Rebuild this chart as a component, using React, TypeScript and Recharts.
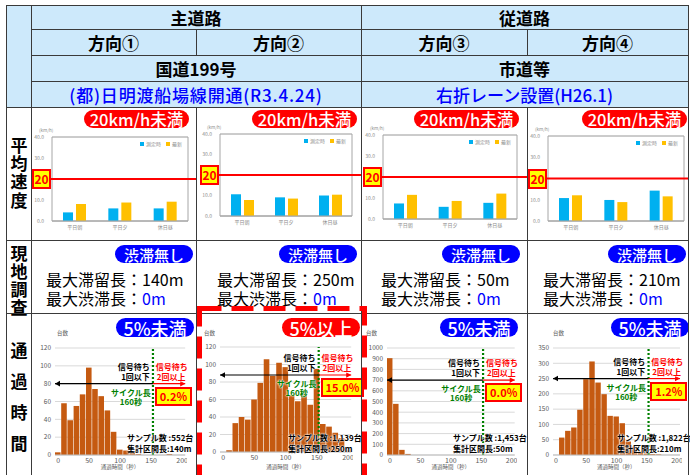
import React from "react";
import {
  BarChart,
  Bar,
  XAxis,
  YAxis,
  CartesianGrid,
  ReferenceLine,
  ReferenceArea,
} from "recharts";

const JP = '"Noto Sans CJK JP", "Noto Sans", sans-serif';
const BLUE = "#0000ff";
const RED = "#ff0000";
const LINE = "#3a3a3a";
const HEAD_BG = "#cde9fb";
const BROWN = "#C55A11";
const GREEN = "#008000";

// header
const mainRoad = "主道路";
const subRoad = "従道路";
const directions = ["方向①", "方向②", "方向③", "方向④"];
const roadNames = ["国道199号", "市道等"];
const measures = ["(都)日明渡船場線開通(R3.4.24)", "右折レーン設置(H26.1)"];
const rowLabels = ["平均速度", "現地調査", "通過時間"];

// 平均速度 (km/h)
const speedCats = ["平日朝", "平日夕", "休日昼"];
const speedSeriesNames = ["測定時", "最新"];
const speedTicks = [0, 10, 20, 30, 40];
const speedThreshold = 20;
const speedJudge = "20km/h未満";
const speedBefore1 = [4.1, 6.0, 6.0];
const speedLatest1 = [8.1, 8.8, 9.2];
const speedBefore2 = [10.6, 9.1, 10.0];
const speedLatest2 = [7.8, 8.5, 10.4];
const speedBefore3 = [7.4, 5.8, 7.7];
const speedLatest3 = [11.5, 8.6, 12.1];
const speedBefore4 = [10.8, 9.9, 14.3];
const speedLatest4 = [12.1, 8.9, 11.6];

// 現地調査
const jamLabel = "渋滞無し";
const maxQueue = ["140m", "250m", "50m", "210m"];
const maxJam = ["0m", "0m", "0m", "0m"];

// 通過時間 (histogram, 10 s bins)
const histBins = [0, 10, 20, 30, 40, 50, 60, 70, 80, 90, 100, 110, 120, 130, 140, 150, 160, 170, 180, 190, 200];
const histXTicks = [0, 50, 100, 150, 200];
const cycleSec = 153;
const hist1 = [3, 58, 39, 55, 68, 98, 74, 66, 50, 26, 6, 5, 3, 1, 0, 0, 0, 0, 1, 0, 0];
const hist2 = [0, 2, 33, 40, 37, 60, 79, 106, 87, 102, 97, 65, 58, 66, 54, 95, 32, 29, 22, 16, 2];
const hist3 = [905, 478, 48, 10, 0, 0, 0, 0, 0, 0, 0, 0, 0, 0, 0, 0, 0, 0, 0, 0, 0];
const hist4 = [0, 57, 79, 90, 148, 248, 306, 237, 199, 128, 126, 104, 44, 27, 11, 5, 3, 2, 0, 0, 0];
const histYTicks1 = [0, 20, 40, 60, 80, 100, 120];
const histYTicks2 = [0, 20, 40, 60, 80, 100, 120];
const histYTicks3 = [0, 100, 200, 300, 400, 500, 600, 700, 800, 900, 1000];
const histYTicks4 = [0, 50, 100, 150, 200, 250, 300, 350];
const arrowLevels = [80, 88, 700, 250];
const overRatios = ["0.2%", "15.0%", "0.0%", "1.2%"];
const judgements = ["5%未満", "5%以上", "5%未満", "5%未満"];
const sampleCounts = ["552", "1,139", "1,453", "1,822"];
const sectionLengths = ["140m", "250m", "50m", "210m"];

// layout
const colX = [31, 196, 361, 527, 688];

const speedPanels = [
  { before: speedBefore1, latest: speedLatest1, L: 52, T: 137, R: 188, B: 221, pillX: 84, boxX: 32 },
  { before: speedBefore2, latest: speedLatest2, L: 220, T: 134, R: 352, B: 216, pillX: 252, boxX: 200 },
  { before: speedBefore3, latest: speedLatest3, L: 383, T: 135, R: 517, B: 219, pillX: 414, boxX: 363 },
  { before: speedBefore4, latest: speedLatest4, L: 548, T: 136, R: 684, B: 221, pillX: 582, boxX: 528 },
];

const jamPanels = [
  { pillX: 115, textX: 46 },
  { pillX: 279, textX: 217 },
  { pillX: 442, textX: 381 },
  { pillX: 608, textX: 543 },
];

const histPanels = [
  { counts: hist1, yTicks: histYTicks1, L: 54.9, T: 348, R: 185.1, B: 455, pillX: 116, unitX: 57, sampleX: 127 },
  { counts: hist2, yTicks: histYTicks2, L: 219.9, T: 347, R: 351.1, B: 452, pillX: 282, unitX: 204, sampleX: 288 },
  { counts: hist3, yTicks: histYTicks3, L: 387, T: 348, R: 514.7, B: 455, pillX: 440, unitX: 366, sampleX: 453 },
  { counts: hist4, yTicks: histYTicks4, L: 552.7, T: 348, R: 679.7, B: 455, pillX: 611, unitX: 553, sampleX: 617 },
];

function Txt({ x, y, size, color = "#000", weight = 400, w, align = "left", children, style }: any) {
  return (
    <div
      style={{
        position: "absolute",
        left: x,
        top: y,
        width: w,
        fontSize: size,
        color,
        fontWeight: weight,
        textAlign: align,
        lineHeight: 1,
        whiteSpace: "nowrap",
        fontFamily: JP,
        ...style,
      }}
    >
      {children}
    </div>
  );
}

function Pill({ x, y, w, h, bg, size, text }: any) {
  return (
    <div
      style={{
        position: "absolute",
        left: x,
        top: y,
        width: w,
        height: h,
        background: bg,
        borderRadius: h / 2,
        color: "#fff",
        fontSize: size,
        fontFamily: JP,
        fontWeight: 500,
        display: "flex",
        alignItems: "center",
        justifyContent: "center",
        lineHeight: 1,
      }}
    >
      {text}
    </div>
  );
}

function HLine({ y, x1, x2 }: any) {
  return <div style={{ position: "absolute", left: x1, top: y, width: x2 - x1 + 1, height: 1, background: LINE }} />;
}
function VLine({ x, y1, y2 }: any) {
  return <div style={{ position: "absolute", left: x, top: y1, width: 1, height: y2 - y1, background: LINE }} />;
}

function Cell({ x1, x2, y1, y2, children, color = "#000", size = 17, weight = 700, spacing = 0 }: any) {
  return (
    <div
      style={{
        position: "absolute",
        left: x1,
        top: y1,
        width: x2 - x1,
        height: y2 - y1,
        display: "flex",
        alignItems: "center",
        justifyContent: "center",
        fontFamily: JP,
        fontSize: size,
        fontWeight: weight,
        letterSpacing: spacing,
        color,
        lineHeight: 1,
      }}
    >
      {children}
    </div>
  );
}

function SpeedChart({ p, cellR }: any) {
  const yw = 26;
  const xh = 12;
  const mt = 6;
  const extR = cellR - p.R;
  const data = speedCats.map((c, i) => ({ cat: c, before: p.before[i], latest: p.latest[i] }));
  const tick = { fontSize: 5, fill: "#8c8c8c", fontFamily: JP };
  return (
    <div style={{ position: "absolute", left: p.L - yw, top: p.T - mt }}>
      <BarChart
        width={p.R - p.L + yw + extR}
        height={p.B - p.T + mt + xh}
        data={data}
        margin={{ top: mt, right: extR, left: 0, bottom: 0 }}
        barGap={3}
        barSize={10}
      >
        <CartesianGrid vertical={false} stroke="#e4e4e4" />
        <XAxis dataKey="cat" height={xh} tick={tick} tickLine={false} tickSize={3} tickMargin={1} axisLine={{ stroke: "#a6a6a6" }} />
        <YAxis
          width={yw}
          domain={[0, 40]}
          ticks={speedTicks}
          tickFormatter={(v: number) => v.toFixed(1)}
          tick={tick}
          tickLine={false}
          axisLine={false}
        />
        <ReferenceArea y1={0} y2={40} fill="none" stroke="#a6a6a6" ifOverflow="visible" />
        <Bar dataKey="before" name={speedSeriesNames[0]} fill="#00B0F0" isAnimationActive={false} />
        <Bar dataKey="latest" name={speedSeriesNames[1]} fill="#FFC000" isAnimationActive={false} />
        <ReferenceLine
          y={speedThreshold}
          ifOverflow="visible"
          shape={(s: any) => (
            <line x1={s.x1 - 2} x2={s.x2 + extR} y1={s.y1} y2={s.y2} stroke={RED} strokeWidth={2} />
          )}
        />
      </BarChart>
    </div>
  );
}

const arrowShape = (dir: "left" | "right", color: string) => (s: any) => {
  const tip = dir === "left" ? Math.min(s.x1, s.x2) : Math.max(s.x1, s.x2);
  const k = dir === "left" ? 1 : -1;
  const y = s.y1;
  return (
    <g>
      <line x1={s.x1} x2={s.x2} y1={y} y2={y} stroke={color} strokeWidth={1.2} />
      <path d={`M${tip},${y} L${tip + 5 * k},${y - 2.8} L${tip + 5 * k},${y + 2.8} Z`} fill={color} />
    </g>
  );
};

function HistChart({ p, level }: any) {
  const yw = 30;
  const xh = 14;
  const mt = 7;
  const yMax = p.yTicks[p.yTicks.length - 1];
  const data = histBins.map((t, i) => ({ t, n: p.counts[i] }));
  const bw = (p.R - p.L) / 21;
  return (
    <div style={{ position: "absolute", left: p.L - yw, top: p.T - mt }}>
      <BarChart
        width={p.R - p.L + yw + 2}
        height={p.B - p.T + mt + xh}
        data={data}
        margin={{ top: mt, right: 2, left: 0, bottom: 0 }}
        barCategoryGap={0}
        barGap={0}
      >
        <CartesianGrid vertical={false} stroke="#d9d9d9" />
        <XAxis
          type="number"
          dataKey="t"
          domain={[-5, 205]}
          ticks={histXTicks}
          interval={0}
          height={xh}
          tick={{ fontSize: 7, fill: "#595959", fontFamily: JP }}
          tickLine={false}
          tickSize={2}
          tickMargin={1}
          axisLine={{ stroke: "#bfbfbf" }}
        />
        <YAxis
          width={yw}
          domain={[0, yMax]}
          ticks={p.yTicks}
          interval={0}
          tick={{ fontSize: 6.5, fill: "#595959", fontFamily: JP }}
          tickLine={false}
          tickSize={3}
          tickMargin={1}
          axisLine={false}
        />
        <Bar dataKey="n" fill={BROWN} barSize={bw + 0.3} isAnimationActive={false} />
        <ReferenceLine x={cycleSec} stroke={GREEN} strokeWidth={2.2} strokeDasharray="2 2" ifOverflow="visible" />
        <ReferenceLine
          segment={[{ x: -5, y: level }, { x: cycleSec, y: level }]}
          ifOverflow="visible"
          shape={arrowShape("left", "#000")}
        />
        <ReferenceLine
          segment={[{ x: cycleSec, y: level }, { x: 205, y: level }]}
          ifOverflow="visible"
          shape={arrowShape("right", RED)}
        />
      </BarChart>
    </div>
  );
}

const halo = { textShadow: "0 0 2px #fff, 0 0 2px #fff, 0 0 1px #fff" };

function HistNotes({ p, i }: any) {
  const yMax = p.yTicks[p.yTicks.length - 1];
  const gx = p.L + ((cycleSec + 5) / 210) * (p.R - p.L);
  const ay = p.B - (arrowLevels[i] / yMax) * (p.B - p.T);
  const over = judgements[i] === "5%以上";
  return (
    <>
      <Pill x={p.pillX} y={318} w={78} h={19} bg={over ? RED : BLUE} size={18} text={judgements[i]} />
      <Txt x={p.unitX} y={331} size={5.5} color="#595959">台数</Txt>
      <Txt x={gx - 43} y={ay - 21} w={40} align="right" size={8} weight={700} style={halo}>信号待ち</Txt>
      <Txt x={gx - 43} y={ay - 11} w={40} align="right" size={8} weight={700} style={halo}>1回以下</Txt>
      <Txt x={gx + 3} y={ay - 21} size={8} weight={700} color={RED} style={halo}>信号待ち</Txt>
      <Txt x={gx + 4} y={ay - 11} size={8} weight={700} color={RED} style={halo}>2回以上</Txt>
      <Txt x={gx - 47} y={ay + 5} w={50} align="center" size={8} weight={700} color={GREEN} style={halo}>サイクル長</Txt>
      <Txt x={gx - 47} y={ay + 14} w={50} align="center" size={8} weight={700} color={GREEN} style={halo}>160秒</Txt>
      <div
        style={{
          position: "absolute",
          left: gx + 2,
          top: ay + 3,
          padding: "2px 3px",
          border: `2px solid ${RED}`,
          background: "#ffff00",
          color: RED,
          fontWeight: 700,
          fontSize: 11,
          lineHeight: 1,
          fontFamily: JP,
        }}
      >
        {overRatios[i]}
      </div>
      <Txt x={p.sampleX} y={434} size={8} weight={700} style={halo}>サンプル数 :{sampleCounts[i]}台</Txt>
      <Txt x={p.sampleX} y={445} size={8} weight={700} style={halo}>集計区間長:{sectionLengths[i]}</Txt>
      <Txt x={(p.L + p.R) / 2 - 30} y={465} w={60} align="center" size={5.5} color="#595959">通過時間（秒）</Txt>
    </>
  );
}

function VerticalLabel({ text, centers }: any) {
  return (
    <>
      {text.split("").map((ch: string, i: number) => (
        <div
          key={i}
          style={{
            position: "absolute",
            left: 7,
            top: centers[i] - 9,
            width: 24,
            height: 18,
            textAlign: "center",
            fontSize: 17,
            fontWeight: 700,
            lineHeight: "18px",
            fontFamily: JP,
            color: "#000",
          }}
        >
          {ch}
        </div>
      ))}
    </>
  );
}

export default function App() {
  return (
    <div
      style={{
        position: "absolute",
        left: 0,
        top: 0,
        width: 690,
        height: 475,
        overflow: "hidden",
        background: "#fff",
        fontFamily: JP,
      }}
    >
      {/* header background */}
      <div style={{ position: "absolute", left: 6, top: 5, width: 682, height: 102, background: HEAD_BG }} />

      <Cell x1={31} x2={361} y1={5} y2={29}>{mainRoad}</Cell>
      <Cell x1={361} x2={688} y1={5} y2={29}>{subRoad}</Cell>
      {directions.map((d, i) => (
        <Cell key={d} x1={colX[i]} x2={colX[i + 1]} y1={29} y2={55}>{d}</Cell>
      ))}
      <Cell x1={31} x2={361} y1={55} y2={81}>{roadNames[0]}</Cell>
      <Cell x1={361} x2={688} y1={55} y2={81}>{roadNames[1]}</Cell>
      <Cell x1={31} x2={361} y1={81} y2={107} color={BLUE} weight={500} spacing={0.8}>{measures[0]}</Cell>
      <Cell x1={361} x2={688} y1={81} y2={107} color={BLUE} weight={500}>{measures[1]}</Cell>

      <VerticalLabel text={rowLabels[0]} centers={[145, 163, 181, 200]} />
      <VerticalLabel text={rowLabels[1]} centers={[253, 271, 289, 307]} />
      <VerticalLabel text={rowLabels[2]} centers={[350, 381, 412, 443]} />

      {/* 平均速度 */}
      {speedPanels.map((p, i) => (
        <SpeedChart key={i} p={p} cellR={colX[i + 1]} />
      ))}
      {speedPanels.map((p, i) => {
        const y20 = p.B - (speedThreshold / 40) * (p.B - p.T);
        return (
          <React.Fragment key={i}>
            <Pill x={p.pillX} y={110} w={105} h={18} bg={RED} size={16.5} text={speedJudge} />
            <Txt x={p.L - 13} y={p.T - 9} size={4.5} color="#8c8c8c">(km/h)</Txt>
            <div
              style={{
                position: "absolute",
                left: p.R - 48,
                top: p.T + 4,
                display: "flex",
                alignItems: "center",
                gap: 2,
                fontSize: 5,
                color: "#8c8c8c",
                fontFamily: JP,
                lineHeight: 1,
              }}
            >
              <span style={{ width: 4, height: 4, background: "#00B0F0", display: "inline-block" }} />
              <span>{speedSeriesNames[0]}</span>
              <span style={{ width: 4, height: 4, background: "#FFC000", display: "inline-block", marginLeft: 3 }} />
              <span>{speedSeriesNames[1]}</span>
            </div>
            <div
              style={{
                position: "absolute",
                left: p.boxX,
                top: y20 - 10,
                width: 19,
                height: 20,
                boxSizing: "border-box",
                border: `2px solid ${RED}`,
                background: "#ffff00",
                color: RED,
                fontWeight: 700,
                fontSize: 12,
                lineHeight: "16px",
                textAlign: "center",
                fontFamily: JP,
              }}
            >
              {speedThreshold}
            </div>
          </React.Fragment>
        );
      })}

      {/* 現地調査 */}
      {jamPanels.map((p, i) => (
        <React.Fragment key={i}>
          <Pill x={p.pillX} y={245} w={78} h={18} bg={BLUE} size={15} text={jamLabel} />
          <Txt x={p.textX} y={271} size={16}>最大滞留長：{maxQueue[i]}</Txt>
          <Txt x={p.textX} y={290} size={16}>
            最大渋滞長：<span style={{ color: BLUE }}>{maxJam[i]}</span>
          </Txt>
        </React.Fragment>
      ))}

      {/* 通過時間 */}
      {histPanels.map((p, i) => (
        <HistChart key={i} p={p} level={arrowLevels[i]} />
      ))}
      {histPanels.map((p, i) => (
        <HistNotes key={i} p={p} i={i} />
      ))}

      {/* grid lines */}
      <HLine y={5} x1={6} x2={688} />
      <HLine y={29} x1={31} x2={688} />
      <HLine y={55} x1={31} x2={688} />
      <HLine y={81} x1={31} x2={688} />
      <HLine y={107} x1={6} x2={688} />
      <HLine y={240} x1={6} x2={688} />
      <HLine y={313} x1={6} x2={688} />
      <VLine x={6} y1={5} y2={475} />
      <VLine x={31} y1={5} y2={475} />
      <VLine x={196} y1={29} y2={55} />
      <VLine x={196} y1={107} y2={475} />
      <VLine x={361} y1={5} y2={475} />
      <VLine x={527} y1={29} y2={55} />
      <VLine x={527} y1={107} y2={475} />
      <VLine x={688} y1={5} y2={475} />

      {/* highlight box */}
      <svg style={{ position: "absolute", left: 0, top: 0 }} width={690} height={475}>
        <rect x={199.5} y={308.5} width={165} height={180} fill="none" stroke={RED} strokeWidth={5} strokeDasharray="22 10" />
      </svg>
    </div>
  );
}
